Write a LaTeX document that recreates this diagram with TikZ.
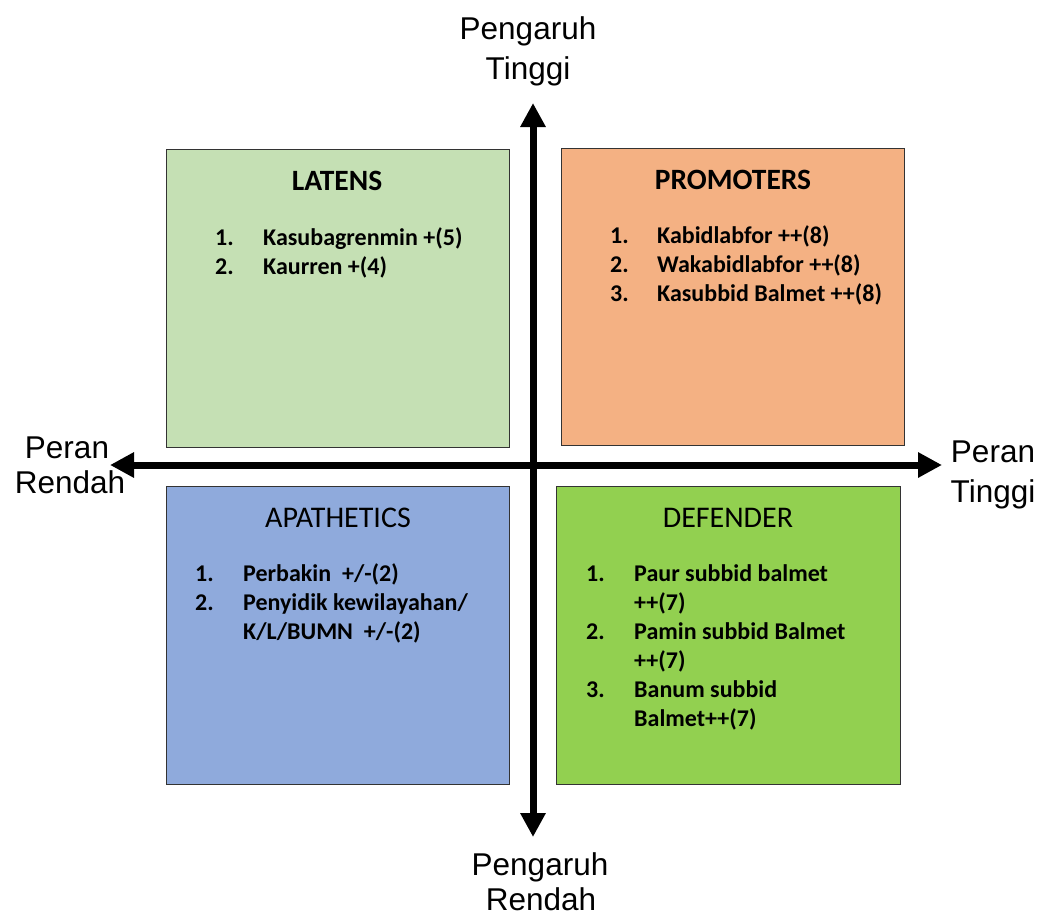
\documentclass[tikz,border=0pt]{standalone}
\usepackage{fontspec}
\setmainfont{Carlito}
\setsansfont{Liberation Sans}
\usetikzlibrary{arrows.meta}
\definecolor{cLat}{HTML}{C5E0B4}
\definecolor{cPro}{HTML}{F4B183}
\definecolor{cApa}{HTML}{8FAADC}
\definecolor{cDef}{HTML}{92D050}
\tikzset{
  quad/.style={draw=black!80, line width=0.9pt, anchor=north west, inner sep=0pt},
  axis/.style={line width=7pt, -{Triangle[width=24pt,length=24pt]}},
  axlabel/.style={font=\sffamily\fontsize{31.5}{38}\selectfont, anchor=base, inner sep=0pt},
  qtitle/.style={font=\fontsize{30}{36}\selectfont, anchor=base, inner sep=0pt},
  btitle/.style={qtitle, font=\bfseries\fontsize{29.5}{36}\selectfont},
  num/.style={font=\bfseries\fontsize{24}{28}\selectfont, anchor=base west, inner sep=0pt},
  item/.style={font=\bfseries\fontsize{24}{28}\selectfont, anchor=base west, inner sep=0pt}
}
\begin{document}
\begin{tikzpicture}[x=1pt,y=-1pt]
\useasboundingbox (0,0) rectangle (1043,916);
% quadrant boxes
\node[quad, fill=cLat, minimum width=343pt, minimum height=298pt] (lat) at (166,149) {};
\node[quad, fill=cPro, minimum width=343pt, minimum height=297pt] (pro) at (561,148) {};
\node[quad, fill=cApa, minimum width=343pt, minimum height=298pt] (apa) at (166,486) {};
\node[quad, fill=cDef, minimum width=344pt, minimum height=298pt] (def) at (556,486) {};
% axes
\coordinate (vb) at (533,837);
\coordinate (vt) at (533,103);
\coordinate (hl) at (110,465);
\coordinate (hr) at (942,465);
\coordinate (c) at (533,465);
\draw[axis] (c) -- (vt);
\draw[axis] (c) -- (vb);
\draw[axis] (c) -- (hl);
\draw[axis] (c) -- (hr);
% axis labels
\node[axlabel] (lt1) at (528,39) {Pengaruh};
\node[axlabel] (lt2) at (528,79) {Tinggi};
\node[axlabel] (lb1) at (540,875) {Pengaruh};
\node[axlabel] (lb2) at (541,910) {Rendah};
\node[axlabel] (ll1) at (67,458) {Peran};
\node[axlabel] (ll2) at (70,493) {Rendah};
\node[axlabel] (lr1) at (993,462) {Peran};
\node[axlabel] (lr2) at (993,502) {Tinggi};
% LATENS
\node[btitle] (tlat) at (337,190) {LATENS};
\node[num] (lat1n) at (215,245) {1.};
\node[item] (lat1) at (263,245) {Kasubagrenmin +(5)};
\node[num] (lat2n) at (215,274) {2.};
\node[item] (lat2) at (263,274) {Kaurren +(4)};
% PROMOTERS
\node[btitle] (tpro) at (733,189) {PROMOTERS};
\node[num] (pro1n) at (610,243) {1.};
\node[item] (pro1) at (657,243) {Kabidlabfor ++(8)};
\node[num] (pro2n) at (610,272) {2.};
\node[item] (pro2) at (657,272) {Wakabidlabfor ++(8)};
\node[num] (pro3n) at (610,301) {3.};
\node[item] (pro3) at (657,301) {Kasubbid Balmet ++(8)};
% APATHETICS
\node[qtitle] (tapa) at (338,527) {APATHETICS};
\node[num] (apa1n) at (195,581) {1.};
\node[item] (apa1) at (243,581) {Perbakin\ \ +/-(2)};
\node[num] (apa2n) at (195,610) {2.};
\node[item] (apa2) at (243,610) {Penyidik kewilayahan/};
\node[item] (apa2b) at (243,639) {K/L/BUMN\ \ +/-(2)};
% DEFENDER
\node[qtitle] (tdef) at (728,527) {DEFENDER};
\node[num] (def1n) at (586,581) {1.};
\node[item] (def1) at (634,581) {Paur subbid balmet};
\node[item] (def1b) at (634,610) {++(7)};
\node[num] (def2n) at (586,639) {2.};
\node[item] (def2) at (634,639) {Pamin subbid Balmet};
\node[item] (def2b) at (634,668) {++(7)};
\node[num] (def3n) at (586,697) {3.};
\node[item] (def3) at (634,697) {Banum subbid};
\node[item] (def3b) at (634,726) {Balmet++(7)};
\end{tikzpicture}
\end{document}
